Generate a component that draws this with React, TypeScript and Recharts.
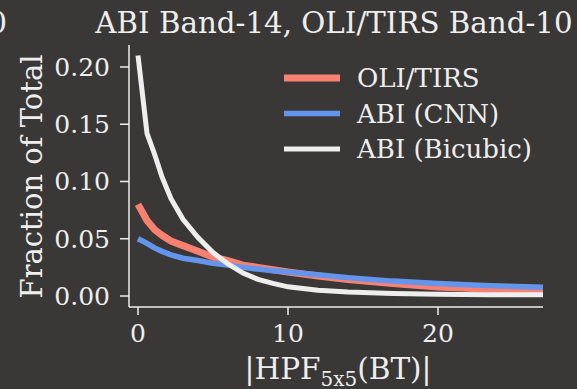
import React from 'react';
import { LineChart, Line, XAxis, YAxis } from 'recharts';

// |HPF| bin positions and fraction of total per dataset
const xVals = [0, 0.6, 1.1, 1.6, 2.2, 3, 4, 5, 6, 7, 8, 9, 10, 12, 14, 17, 20, 23.5, 27];
const oliTirs = [0.08, 0.066, 0.058, 0.053, 0.048, 0.044, 0.039, 0.034, 0.031, 0.027, 0.025, 0.023, 0.021, 0.0175, 0.0145, 0.011, 0.0079, 0.006, 0.0044];
const abiCnn = [0.05, 0.046, 0.042, 0.039, 0.036, 0.033, 0.031, 0.0285, 0.027, 0.025, 0.0235, 0.022, 0.021, 0.0185, 0.016, 0.013, 0.011, 0.009, 0.0076];
const abiBicubic = [0.21, 0.142, 0.124, 0.104, 0.085, 0.067, 0.051, 0.038, 0.028, 0.02, 0.0145, 0.011, 0.008, 0.005, 0.0035, 0.0022, 0.0016, 0.0012, 0.001];

const xTicks = [0, 10, 20];
const yTicks = [0, 0.05, 0.1, 0.15, 0.2];

const seriesNames = ['OLI/TIRS', 'ABI (CNN)', 'ABI (Bicubic)'];
const seriesColors = ['#fa8072', '#6495ed', '#eeeeee'];
const seriesWidths = [7, 5.5, 5];

const BG = '#393836';
const FG = '#eeeeee';
const FONT = '"DejaVu Serif", serif';

const data = xVals.map((x, i) => ({
  x,
  oli: oliTirs[i],
  cnn: abiCnn[i],
  bic: abiBicubic[i],
}));

export default function App() {
  return (
    <div style={{ position: 'fixed', left: 0, top: 0, width: 577, height: 389, background: BG, overflow: 'hidden' }}>
      <LineChart
        width={577}
        height={389}
        data={data}
        margin={{ top: 45, right: 34, bottom: 42, left: 49 }}
      >
        <XAxis
          type="number"
          dataKey="x"
          domain={[-0.6, 27]}
          ticks={xTicks}
          interval={0}
          allowDataOverflow
          height={40}
          tickSize={8}
          tickMargin={9}
          axisLine={{ stroke: FG, strokeWidth: 1.5 }}
          tickLine={{ stroke: FG, strokeWidth: 1.5 }}
          tick={{ fill: FG, fontFamily: FONT, fontSize: 25 }}
        />
        <YAxis
          type="number"
          domain={[-0.0096, 0.2192]}
          ticks={yTicks}
          interval={0}
          allowDataOverflow
          width={80}
          tickSize={9}
          tickMargin={10}
          tickFormatter={(v: number) => v.toFixed(2)}
          axisLine={{ stroke: FG, strokeWidth: 1.5 }}
          tickLine={{ stroke: FG, strokeWidth: 1.5 }}
          tick={{ fill: FG, fontFamily: FONT, fontSize: 25 }}
        />
        <Line type="linear" dataKey="oli" name={seriesNames[0]} stroke={seriesColors[0]} strokeWidth={seriesWidths[0]} dot={false} isAnimationActive={false} />
        <Line type="linear" dataKey="cnn" name={seriesNames[1]} stroke={seriesColors[1]} strokeWidth={seriesWidths[1]} dot={false} isAnimationActive={false} />
        <Line type="linear" dataKey="bic" name={seriesNames[2]} stroke={seriesColors[2]} strokeWidth={seriesWidths[2]} dot={false} isAnimationActive={false} />
      </LineChart>
      <svg width={577} height={389} style={{ position: 'absolute', left: 0, top: 0, pointerEvents: 'none' }}>
        {/* tail of the neighbouring panel's title */}
        <text x={7} y={33} textAnchor="end" fill={FG} fontFamily={FONT} fontSize={29.5}>10</text>
        <text x={334} y={33} textAnchor="middle" fill={FG} fontFamily={FONT} fontSize={29.3}>
          ABI Band-14, OLI/TIRS Band-10
        </text>
        {/* legend */}
        {seriesNames.map((name, i) => (
          <g key={name} transform={`translate(284, ${78 + i * 35.5})`}>
            <line x1={0} x2={56} y1={0} y2={0} stroke={seriesColors[i]} strokeWidth={seriesWidths[i]} />
            <text x={73} y={0} dy="0.35em" fill={FG} fontFamily={FONT} fontSize={26}>
              {name}
            </text>
          </g>
        ))}
        {/* axis labels */}
        <text x={338} y={379} textAnchor="middle" fill={FG} fontFamily={FONT} fontSize={29.5}>
          |HPF
          <tspan fontSize={20} dy={7}>5x5</tspan>
          <tspan dy={-7}>(BT)|</tspan>
        </text>
        <text
          x={42}
          y={176.5}
          transform="rotate(-90, 42, 176.5)"
          textAnchor="middle"
          fill={FG}
          fontFamily={FONT}
          fontSize={29}
        >
          Fraction of Total
        </text>
      </svg>
    </div>
  );
}
